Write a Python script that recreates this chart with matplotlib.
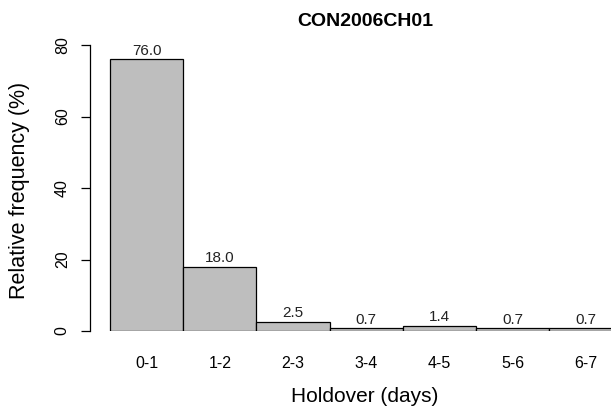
import matplotlib
matplotlib.use("Agg")
import matplotlib.pyplot as plt

plt.rcParams['font.family'] = ['Liberation Sans', 'DejaVu Sans']

# holdover classes and relative frequencies (%)
classes = ['0-1', '1-2', '2-3', '3-4', '4-5', '5-6', '6-7']
freq = [76.0, 18.0, 2.5, 0.7, 1.4, 0.7, 0.7]
labels = ['76.0', '18.0', '2.5', '0.7', '1.4', '0.7', '0.7']
yticks = [0, 20, 40, 60, 80]

fig = plt.figure(figsize=(6.11, 4.09), dpi=100)
# axes placed in pixels: left 90, right 611, y=0 at 331, y=80 at 45
ax = fig.add_axes([90 / 611, 1 - 331 / 409, 521 / 611, 286 / 409])

pos = list(range(len(classes)))
ax.bar(pos, freq, width=1.0, align='edge', color='#bebebe',
       edgecolor='black', linewidth=0.9)
for p, v, t in zip(pos, freq, labels):
    ax.text(p + 0.5, v + 0.5, t, ha='center', va='bottom', fontsize=11,
            color='#222222')

ax.set_xlim(-20 / 73.2, 501 / 73.2)
ax.set_ylim(0, 80)

for s in ['top', 'right', 'bottom']:
    ax.spines[s].set_visible(False)
ax.spines['left'].set_linewidth(0.9)

ax.set_yticks(yticks)
ax.set_yticklabels([str(y) for y in yticks], rotation=90, va='center',
                   fontsize=11.5)
ax.tick_params(axis='y', length=6.5, width=0.9, pad=8)

ax.set_xticks([p + 0.5 for p in pos])
ax.set_xticklabels(classes, fontsize=11.5)
ax.tick_params(axis='x', length=0, pad=18)

fig.text(365 / 611, 1 - 21 / 409, 'CON2006CH01', ha='center', va='center',
         fontsize=14, fontweight='bold')
fig.text(365 / 611, 1 - 397 / 409, 'Holdover (days)', ha='center',
         va='center', fontsize=15)
fig.text(20 / 611, 1 - 190 / 409, 'Relative frequency (%)', ha='center',
         va='center', rotation=90, fontsize=15.5)

fig.savefig('out.png', dpi=100)
